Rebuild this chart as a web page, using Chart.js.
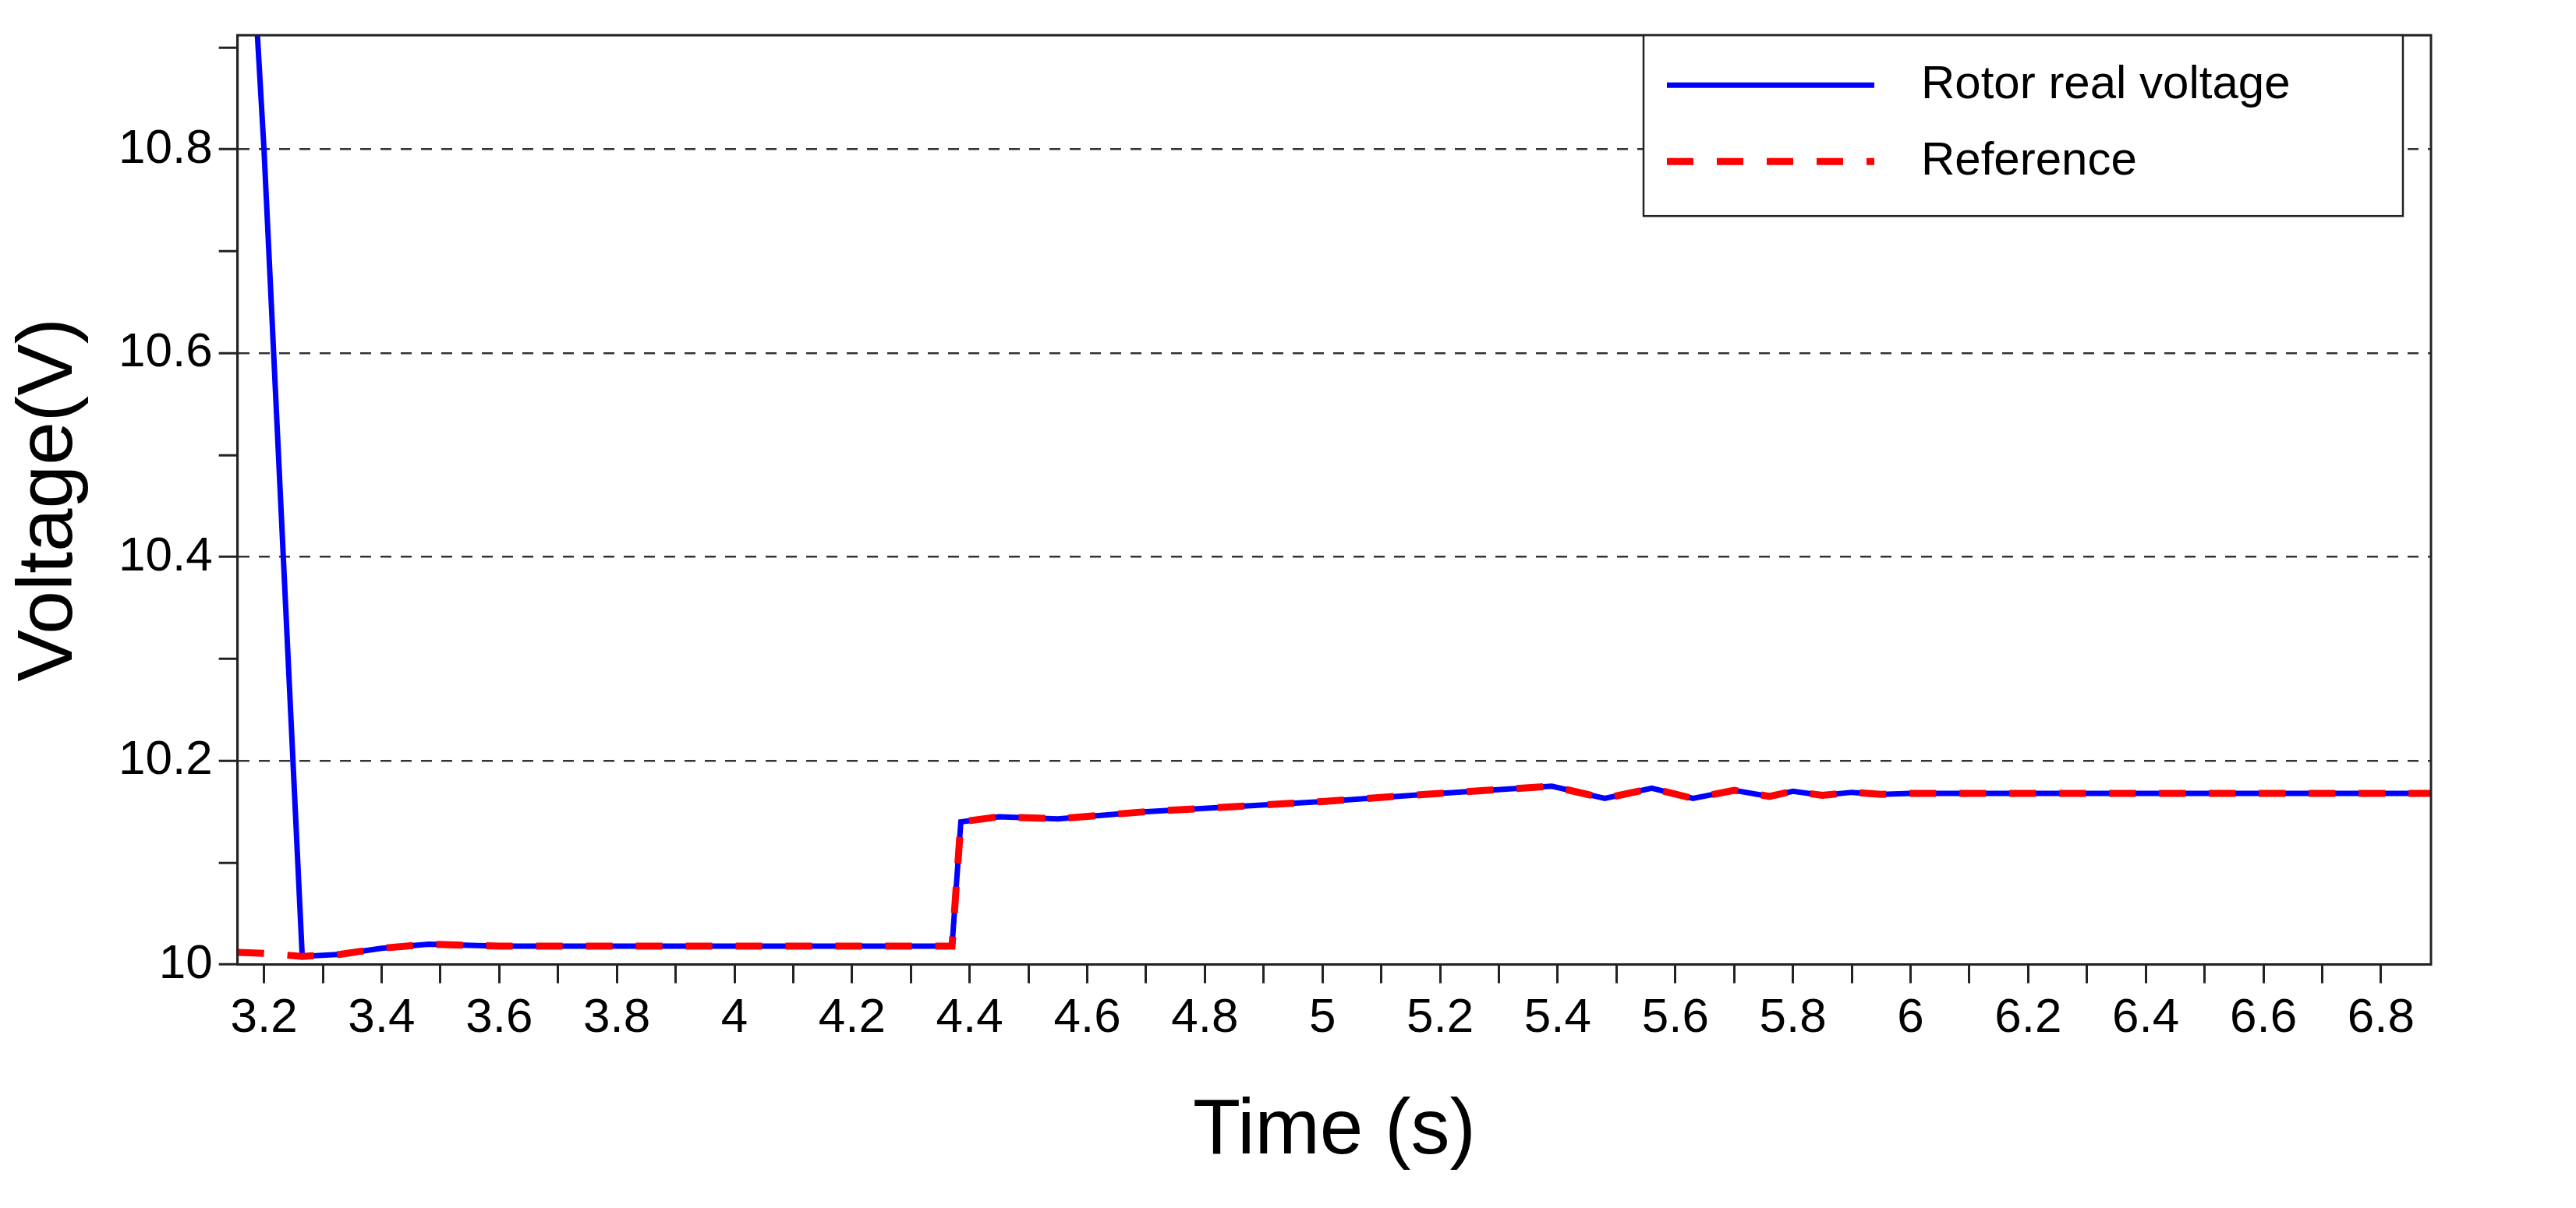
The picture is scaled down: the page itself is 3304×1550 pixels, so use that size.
<!DOCTYPE html>
<html><head><meta charset="utf-8">
<script src="https://cdn.jsdelivr.net/npm/chart.js@4"></script>
<style>html,body{margin:0;padding:0;background:#fff}#w{width:3304px;height:1550px}</style>
</head><body><div id="w"><canvas id="c"></canvas></div>
<script>
const rotorTime = [3.175,3.2,3.265,3.33,3.4,3.48,3.6,3.8,4.0,4.2,4.37,4.385,4.45,4.55,4.7,4.85,5.0,5.2,5.39,5.48,5.56,5.63,5.7,5.76,5.8,5.85,5.9,5.95,6.0,6.2,6.5,6.885];
const rotorVolt = [11.05,10.8,10.008,10.01,10.016,10.02,10.018,10.018,10.018,10.018,10.018,10.14,10.145,10.143,10.15,10.155,10.16,10.168,10.175,10.163,10.173,10.163,10.171,10.165,10.17,10.166,10.169,10.167,10.168,10.168,10.168,10.168];
const refTime = [3.155,3.2,3.265,3.33,3.4,3.48,3.6,3.8,4.0,4.2,4.37,4.385,4.45,4.55,4.7,4.85,5.0,5.2,5.39,5.48,5.56,5.63,5.7,5.76,5.8,5.85,5.9,5.95,6.0,6.2,6.5,6.885];
const refVolt = [10.012,10.011,10.008,10.01,10.016,10.02,10.018,10.018,10.018,10.018,10.018,10.14,10.145,10.143,10.15,10.155,10.16,10.168,10.175,10.163,10.173,10.163,10.171,10.165,10.17,10.166,10.169,10.167,10.168,10.168,10.168,10.168];
const xTicks = [3.2,3.3,3.4,3.5,3.6,3.7,3.8,3.9,4.0,4.1,4.2,4.3,4.4,4.5,4.6,4.7,4.8,4.9,5.0,5.1,5.2,5.3,5.4,5.5,5.6,5.7,5.8,5.9,6.0,6.1,6.2,6.3,6.4,6.5,6.6,6.7,6.8];
const yTicks = [10.0,10.1,10.2,10.3,10.4,10.5,10.6,10.7,10.8,10.9];
const xRange = [3.155, 6.885];
const yRange = [10, 10.912];

const pts = (t,v)=>t.map((x,i)=>({x, y:v[i]}));
const isMaj = v=>Math.abs(v*5 - Math.round(v*5))<1e-6;
const F = "'Liberation Sans', Arial, sans-serif";
const frame = {id:'frame', afterDraw(ch){
  const a=ch.chartArea,c=ch.ctx;c.save();c.strokeStyle='#222';c.lineWidth=3;c.setLineDash([]);
  c.strokeRect(a.left,a.top,a.right-a.left,a.bottom-a.top);
  // legend box
  const w=974,h=232,x=a.right-w-36,y=a.top;
  c.fillStyle='#fff';c.fillRect(x,y,w,h);c.lineWidth=2.5;c.strokeRect(x,y,w,h);
  c.font='60px '+F;c.fillStyle='#000';c.textBaseline='middle';
  ch.data.datasets.forEach((d,i)=>{const ly=y+64+i*98;
    c.strokeStyle=d.borderColor;c.lineWidth=d.borderWidth;c.setLineDash(d.borderDash||[]);
    c.beginPath();c.moveTo(x+30,ly);c.lineTo(x+296,ly);c.stroke();c.setLineDash([]);
    c.fillText(d.label,x+356,ly);});
  c.restore();}};
new Chart(document.getElementById('c'), {
  type:'line',
  data:{datasets:[
    {label:'Rotor real voltage', data:pts(rotorTime,rotorVolt), borderColor:'#0000ff', borderWidth:7, pointRadius:0, tension:0, order:2},
    {label:'Reference', data:pts(refTime,refVolt), borderColor:'#ff0000', borderWidth:9, borderDash:[34,30], pointRadius:0, tension:0, order:1}
  ]},
  options:{
    responsive:true, maintainAspectRatio:false, animation:false, devicePixelRatio:1,
    layout:{padding:{left:0,right:186,top:28,bottom:34}},
    plugins:{legend:{display:false}, tooltip:{enabled:false}},
    scales:{
      x:{type:'linear', min:xRange[0], max:xRange[1],
        afterBuildTicks(ax){ax.ticks=xTicks.map(v=>({value:v}));},
        ticks:{autoSkip:false, maxRotation:0, color:'#000', font:{family:F,size:62}, padding:8,
          callback:v=>isMaj(v)?(Math.round(v*10)/10).toString():''},
        grid:{drawOnChartArea:false, tickLength:24, tickWidth:3, tickColor:'#222'},
        border:{color:'#222',width:3},
        title:{display:true,text:'Time (s)',color:'#000',font:{family:F,size:100},padding:{top:40}}},
      y:{min:yRange[0], max:yRange[1],
        afterBuildTicks(ax){ax.ticks=yTicks.map(v=>({value:v}));},
        ticks:{color:'#000', font:{family:F,size:62}, padding:8,
          callback:v=>isMaj(v)?(Math.round(v*10)/10).toString():''},
        grid:{color:c=>c.tick&&isMaj(c.tick.value)&&c.tick.value>10.01?'#333':'transparent', lineWidth:2.5, drawTicks:true, tickLength:24, tickWidth:3, tickColor:'#222'},
        border:{color:'#222',width:3, dash:[14,12]},
        title:{display:true,text:'Voltage(V)',color:'#000',font:{family:F,size:100},padding:{bottom:20}}}
    }
  },
  plugins:[frame]
});
</script></body></html>
